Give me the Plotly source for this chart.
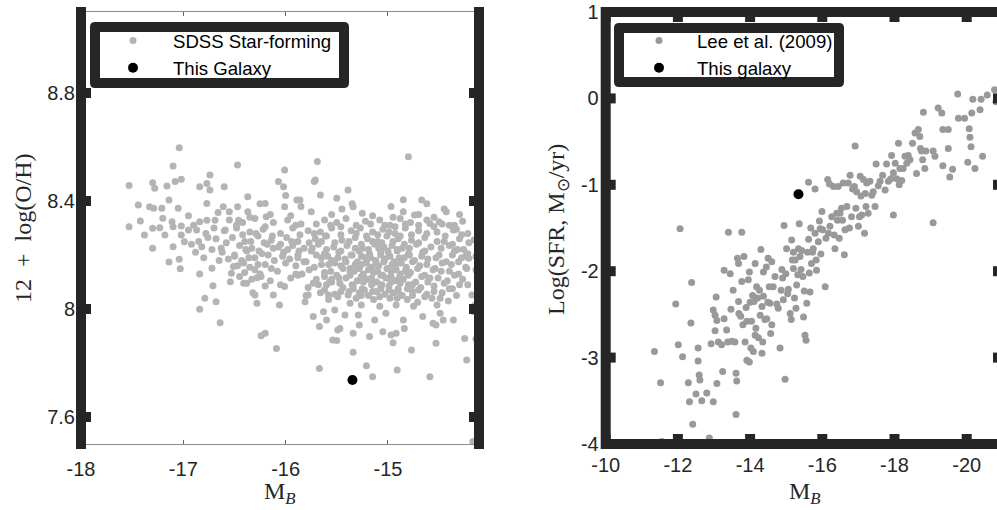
import plotly.graph_objects as go

# ---------------- data ----------------
# Left panel: SDSS star-forming galaxies (M_B, 12+log(O/H)) - sparse outskirts
sdss_sparse = [
    (-17.53, 8.457), (-17.53, 8.305), (-17.44, 8.385), (-17.42, 8.326), (-17.38, 8.274),
    (-17.30, 8.225), (-17.30, 8.468), (-17.28, 8.447), (-17.33, 8.379), (-17.29, 8.373),
    (-17.30, 8.299), (-17.23, 8.301), (-17.21, 8.373), (-17.20, 8.336), (-17.18, 8.274),
    (-17.16, 8.456), (-17.14, 8.404), (-17.14, 8.174), (-17.11, 8.323), (-17.10, 8.530),
    (-17.10, 8.231), (-17.10, 8.305), (-17.08, 8.472), (-17.04, 8.597), (-17.05, 8.373),
    (-17.04, 8.184), (-17.03, 8.149), (-17.02, 8.481), (-17.02, 8.307), (-17.02, 8.274),
    (-16.99, 8.249), (-16.95, 8.345), (-16.95, 8.293), (-16.92, 8.240), (-16.87, 8.293),
    (-16.84, 8.453), (-16.84, 8.323), (-16.84, 8.130), (-16.84, 7.999), (-16.82, 8.231),
    (-16.79, 8.040), (-16.77, 8.465), (-16.77, 8.391), (-16.77, 8.329), (-16.76, 8.265),
    (-16.74, 8.496), (-16.74, 8.441), (-16.72, 8.151), (-16.71, 8.086), (-16.69, 8.329),
    (-16.68, 8.027), (-16.66, 8.357), (-16.64, 7.949), (-16.63, 8.225), (-16.60, 8.453),
    (-16.61, 8.379), (-16.59, 8.293), (-16.54, 8.101), (-16.53, 8.132), (-16.51, 8.157),
    (-16.47, 8.533), (-16.47, 8.379), (-16.46, 8.329), (-16.41, 8.095), (-16.38, 8.095),
    (-16.37, 8.416), (-16.37, 8.360), (-16.30, 8.052), (-16.28, 8.021), (-16.28, 8.116),
    (-16.24, 7.901), (-16.20, 7.910), (-16.20, 8.391), (-16.19, 8.342), (-16.12, 8.052),
    (-16.09, 7.854), (-16.07, 8.472), (-16.06, 8.015), (-16.02, 8.453), (-16.01, 8.515),
    (-16.01, 8.083), (-16.01, 8.379), (-15.89, 8.404), (-15.86, 8.404), (-15.81, 8.027),
    (-15.78, 8.052), (-15.73, 7.972), (-15.72, 8.472), (-15.71, 8.478), (-15.69, 8.546),
    (-15.67, 7.780), (-15.67, 7.935), (-15.66, 8.422), (-15.63, 7.990), (-15.60, 7.959),
    (-15.58, 8.052), (-15.55, 8.110), (-15.54, 7.885), (-15.52, 7.996), (-15.50, 7.883),
    (-15.49, 7.922), (-15.47, 7.928), (-15.42, 7.978), (-15.39, 8.441), (-15.39, 8.052),
    (-15.37, 8.021), (-15.34, 7.910), (-15.34, 7.840), (-15.34, 8.379), (-15.29, 7.978),
    (-15.28, 7.941), (-15.21, 7.790), (-15.18, 7.898), (-15.15, 7.749), (-15.13, 7.959),
    (-15.05, 7.916), (-15.02, 7.984), (-14.97, 7.904), (-14.95, 7.875), (-14.92, 7.910),
    (-14.91, 7.774), (-14.85, 7.959), (-14.84, 7.928), (-14.80, 8.564), (-14.77, 7.848),
    (-14.74, 8.348), (-14.67, 8.404), (-14.66, 7.972), (-14.59, 7.749), (-14.59, 8.317),
    (-14.56, 7.947), (-14.53, 7.873), (-14.53, 7.941), (-14.50, 8.323), (-14.49, 7.984),
    (-14.46, 7.959), (-14.43, 8.360), (-14.36, 8.293), (-14.36, 7.959), (-14.25, 7.891),
    (-14.23, 7.811), (-14.16, 8.256), (-14.16, 7.990), (-14.15, 8.015), (-14.14, 7.889),
    (-14.11, 8.212), (-14.14, 8.144), (-14.14, 8.194), (-14.17, 7.509), (-14.21, 8.188),
    (-14.18, 8.052),
    (-16.55, 8.36), (-16.35, 8.34), (-16.15, 8.35), (-15.95, 8.345), (-15.75, 8.36),
    (-15.55, 8.35), (-15.45, 8.37), (-15.25, 8.355), (-15.15, 8.345), (-14.95, 8.34),
    (-14.85, 8.36), (-14.70, 8.35), (-14.55, 8.34), (-14.45, 8.37), (-14.30, 8.35),
    (-16.25, 8.39), (-15.85, 8.38), (-15.35, 8.39), (-14.97, 8.38), (-14.62, 8.39),
    (-16.00, 8.42), (-15.50, 8.41), (-14.85, 8.405),
    (-16.90, 8.31), (-16.85, 8.25), (-16.78, 8.28), (-16.72, 8.22), (-16.70, 8.30),
    (-16.80, 8.19), (-16.88, 8.21), (-16.65, 8.18),
    (-16.45, 8.12), (-16.32, 8.06), (-16.05, 8.09), (-15.90, 8.13), (-15.80, 8.05),
    (-15.68, 8.09),
]

# Left panel: SDSS star-forming galaxies - dense core
sdss_core = [
    (-16.55, 8.33), (-16.42, 8.32), (-16.30, 8.335), (-16.12, 8.32), (-15.98, 8.33),
    (-15.85, 8.315), (-15.62, 8.33), (-15.50, 8.32), (-15.41, 8.335), (-15.22, 8.325),
    (-15.08, 8.33), (-14.98, 8.31), (-14.88, 8.335), (-14.78, 8.32), (-14.62, 8.33),
    (-14.40, 8.31), (-14.27, 8.325),
    (-16.60, 8.29), (-16.48, 8.30), (-16.35, 8.285), (-16.22, 8.295), (-16.05, 8.28),
    (-15.93, 8.30), (-15.78, 8.29), (-15.66, 8.285), (-15.55, 8.30), (-15.36, 8.29),
    (-15.27, 8.30), (-15.15, 8.285), (-15.05, 8.295), (-14.93, 8.28), (-14.83, 8.30),
    (-14.70, 8.29), (-14.52, 8.285), (-14.33, 8.295), (-14.22, 8.28),
    (-16.68, 8.26), (-16.52, 8.265), (-16.40, 8.25), (-16.27, 8.27), (-16.14, 8.255),
    (-15.99, 8.265), (-15.88, 8.25), (-15.71, 8.26), (-15.60, 8.27), (-15.45, 8.255),
    (-15.32, 8.265), (-15.20, 8.26), (-15.10, 8.25), (-15.01, 8.27), (-14.90, 8.26),
    (-14.77, 8.255), (-14.64, 8.265), (-14.45, 8.25), (-14.30, 8.26),
    (-16.45, 8.235), (-16.33, 8.225), (-16.18, 8.24), (-16.07, 8.23), (-15.93, 8.235),
    (-15.82, 8.225), (-15.68, 8.24), (-15.53, 8.23), (-15.40, 8.235), (-15.25, 8.225),
    (-15.13, 8.24), (-15.04, 8.23), (-14.96, 8.235), (-14.86, 8.225), (-14.72, 8.24),
    (-14.58, 8.23), (-14.40, 8.235), (-14.26, 8.22),
    (-16.62, 8.21), (-16.50, 8.20), (-16.38, 8.215), (-16.23, 8.205), (-16.02, 8.21),
    (-15.88, 8.20), (-15.75, 8.215), (-15.62, 8.205), (-15.48, 8.21), (-15.35, 8.20),
    (-15.28, 8.215), (-15.18, 8.205), (-15.07, 8.21), (-14.99, 8.20), (-14.91, 8.215),
    (-14.80, 8.205), (-14.66, 8.21), (-14.50, 8.20), (-14.35, 8.215), (-14.22, 8.205),
    (-16.56, 8.185), (-16.43, 8.18), (-16.30, 8.19), (-16.11, 8.18), (-15.96, 8.185),
    (-15.80, 8.175), (-15.65, 8.19), (-15.55, 8.18), (-15.42, 8.185), (-15.30, 8.175),
    (-15.22, 8.19), (-15.12, 8.18), (-15.03, 8.185), (-14.94, 8.175), (-14.84, 8.19),
    (-14.74, 8.18), (-14.61, 8.185), (-14.43, 8.175), (-14.28, 8.19),
    (-16.47, 8.16), (-16.35, 8.155), (-16.20, 8.165), (-15.90, 8.16), (-15.72, 8.155),
    (-15.58, 8.165), (-15.46, 8.16), (-15.37, 8.15), (-15.26, 8.165), (-15.16, 8.155),
    (-15.09, 8.16), (-15.00, 8.15), (-14.92, 8.165), (-14.82, 8.155), (-14.69, 8.16),
    (-14.54, 8.15), (-14.38, 8.165), (-14.24, 8.155),
    (-16.40, 8.135), (-16.25, 8.13), (-16.08, 8.14), (-15.84, 8.13), (-15.62, 8.135),
    (-15.50, 8.125), (-15.33, 8.14), (-15.24, 8.13), (-15.14, 8.135), (-15.05, 8.125),
    (-14.97, 8.14), (-14.88, 8.13), (-14.78, 8.135), (-14.64, 8.125), (-14.48, 8.14),
    (-14.31, 8.13),
    (-16.33, 8.11), (-16.15, 8.105), (-15.95, 8.115), (-15.70, 8.11), (-15.55, 8.10),
    (-15.41, 8.115), (-15.30, 8.105), (-15.20, 8.11), (-15.11, 8.10), (-15.02, 8.115),
    (-14.93, 8.105), (-14.85, 8.11), (-14.73, 8.10), (-14.59, 8.115), (-14.42, 8.105),
    (-14.27, 8.11),
    (-16.20, 8.085), (-15.78, 8.08), (-15.60, 8.09), (-15.44, 8.08), (-15.34, 8.085),
    (-15.25, 8.075), (-15.16, 8.09), (-15.07, 8.08), (-14.99, 8.085), (-14.90, 8.075),
    (-14.80, 8.09), (-14.68, 8.08), (-14.55, 8.085), (-14.37, 8.075), (-14.22, 8.09),
    (-15.66, 8.06), (-15.52, 8.055), (-15.38, 8.065), (-15.28, 8.06), (-15.19, 8.05),
    (-15.11, 8.065), (-15.03, 8.055), (-14.95, 8.06), (-14.86, 8.05), (-14.76, 8.065),
    (-14.62, 8.055), (-14.47, 8.06), (-14.33, 8.05),
    (-15.58, 8.035), (-15.31, 8.04), (-15.14, 8.035), (-14.98, 8.04), (-14.81, 8.035),
    (-14.71, 8.025), (-14.57, 8.04), (-14.41, 8.03),
    (-15.26, 8.015), (-15.08, 8.01), (-14.92, 8.015), (-14.75, 8.01), (-14.52, 8.015),
]

# Left panel: SDSS star-forming galaxies - in-between points of the dense core
sdss_core_fill = [
    (-16.48, 8.31), (-16.20, 8.305), (-15.90, 8.31), (-15.70, 8.315), (-15.56, 8.31),
    (-15.46, 8.305), (-15.31, 8.31), (-15.17, 8.315), (-15.03, 8.31), (-14.93, 8.305),
    (-14.83, 8.315), (-14.70, 8.31), (-14.55, 8.305), (-14.47, 8.315), (-14.35, 8.31),
    (-16.42, 8.275), (-16.29, 8.28), (-16.13, 8.27), (-15.86, 8.275), (-15.72, 8.28),
    (-15.61, 8.27), (-15.46, 8.275), (-15.31, 8.28), (-15.21, 8.27), (-15.10, 8.275),
    (-14.99, 8.285), (-14.88, 8.27), (-14.77, 8.275), (-14.62, 8.28), (-14.44, 8.27),
    (-14.28, 8.275),
    (-16.58, 8.245), (-16.34, 8.25), (-16.21, 8.245), (-16.05, 8.24), (-15.94, 8.25),
    (-15.77, 8.245), (-15.65, 8.25), (-15.52, 8.245), (-15.38, 8.25), (-15.26, 8.24),
    (-15.15, 8.25), (-15.06, 8.245), (-14.95, 8.25), (-14.84, 8.24), (-14.70, 8.245),
    (-14.52, 8.25), (-14.37, 8.24), (-14.21, 8.245),
    (-16.39, 8.22), (-16.26, 8.215), (-16.12, 8.225), (-15.98, 8.22), (-15.87, 8.215),
    (-15.74, 8.225), (-15.60, 8.22), (-15.46, 8.215), (-15.32, 8.225), (-15.19, 8.22),
    (-15.09, 8.225), (-15.00, 8.215), (-14.91, 8.22), (-14.79, 8.225), (-14.64, 8.215),
    (-14.48, 8.225), (-14.32, 8.22),
    (-16.50, 8.195), (-16.36, 8.19), (-16.17, 8.2), (-16.03, 8.195), (-15.88, 8.19),
    (-15.70, 8.2), (-15.59, 8.195), (-15.49, 8.19), (-15.36, 8.2), (-15.26, 8.195),
    (-15.17, 8.19), (-15.07, 8.2), (-14.98, 8.195), (-14.89, 8.19), (-14.79, 8.2),
    (-14.67, 8.195), (-14.53, 8.19), (-14.37, 8.2), (-14.24, 8.195),
    (-16.41, 8.17), (-16.27, 8.165), (-16.00, 8.17), (-15.82, 8.175), (-15.65, 8.165),
    (-15.52, 8.17), (-15.41, 8.175), (-15.32, 8.165), (-15.21, 8.17), (-15.12, 8.165),
    (-15.04, 8.175), (-14.96, 8.165), (-14.87, 8.17), (-14.76, 8.175), (-14.62, 8.165),
    (-14.47, 8.17), (-14.31, 8.175),
    (-16.30, 8.145), (-16.14, 8.15), (-15.77, 8.145), (-15.56, 8.14), (-15.44, 8.15),
    (-15.37, 8.14), (-15.28, 8.15), (-15.19, 8.145), (-15.10, 8.14), (-15.01, 8.15),
    (-14.92, 8.145), (-14.83, 8.14), (-14.71, 8.15), (-14.56, 8.145), (-14.40, 8.14),
    (-14.23, 8.15),
    (-16.24, 8.12), (-15.88, 8.125), (-15.62, 8.12), (-15.48, 8.115), (-15.37, 8.125),
    (-15.26, 8.12), (-15.16, 8.115), (-15.07, 8.125), (-14.97, 8.12), (-14.89, 8.115),
    (-14.80, 8.125), (-14.67, 8.12), (-14.51, 8.115), (-14.35, 8.125),
    (-15.73, 8.095), (-15.57, 8.1), (-15.47, 8.095), (-15.35, 8.09), (-15.24, 8.1),
    (-15.15, 8.095), (-15.06, 8.09), (-14.97, 8.1), (-14.88, 8.095), (-14.76, 8.09),
    (-14.61, 8.1), (-14.45, 8.095), (-14.30, 8.09),
    (-15.62, 8.07), (-15.46, 8.065), (-15.34, 8.075), (-15.23, 8.07), (-15.15, 8.065),
    (-15.07, 8.075), (-14.99, 8.07), (-14.90, 8.065), (-14.81, 8.075), (-14.70, 8.07),
    (-14.55, 8.065), (-14.40, 8.075),
    (-15.49, 8.045), (-15.26, 8.05), (-15.08, 8.045), (-14.91, 8.04), (-14.76, 8.05),
    (-14.64, 8.045), (-14.49, 8.04),
]

this_galaxy_mb = [-15.347]
this_galaxy_oh = [7.737]

# Right panel: Lee et al. (2009) (M_B, log SFR)
lee_points = [
    (-11.35, -2.93), (-11.52, -3.29), (-11.55, -3.97), (-12.06, -1.51), (-11.94, -2.38),
    (-12.01, -2.85), (-12.13, -2.99), (-12.29, -3.29), (-12.32, -3.51), (-12.36, -2.60),
    (-12.38, -2.13), (-12.41, -3.77), (-12.50, -3.42), (-12.56, -2.89), (-12.56, -3.04),
    (-12.59, -3.20), (-12.61, -3.26), (-12.66, -3.50), (-12.80, -3.41), (-12.87, -3.93),
    (-12.92, -2.84), (-12.98, -3.51), (-12.98, -2.45), (-13.03, -2.51), (-13.03, -2.69),
    (-13.06, -2.30), (-13.08, -2.57), (-13.08, -3.30), (-13.12, -2.82), (-13.21, -2.85),
    (-13.24, -3.16), (-13.28, -1.99), (-13.28, -2.55), (-13.35, -2.68), (-13.38, -2.82),
    (-13.40, -1.55), (-13.45, -2.03), (-13.47, -2.44), (-13.49, -2.81), (-13.53, -2.22),
    (-13.58, -2.82), (-13.61, -3.18), (-13.63, -3.27), (-13.61, -3.66), (-13.65, -1.85),
    (-13.68, -1.91), (-13.68, -2.35), (-13.69, -2.49), (-13.74, -2.52), (-13.77, -1.55),
    (-13.77, -2.12), (-13.80, -2.62), (-13.83, -1.83), (-13.86, -2.82), (-13.89, -2.42),
    (-13.91, -2.58), (-13.91, -3.03), (-13.95, -2.10), (-13.98, -3.05), (-13.98, -2.01),
    (-14.00, -2.36), (-14.02, -2.89), (-14.04, -2.58), (-14.07, -2.28), (-14.09, -2.93),
    (-14.11, -2.35), (-14.14, -1.91), (-14.14, -2.74), (-14.16, -2.66), (-14.18, -2.18),
    (-14.21, -2.31), (-14.23, -2.77), (-14.26, -2.22), (-14.28, -2.51), (-14.30, -1.75),
    (-14.33, -2.41), (-14.33, -2.95), (-14.35, -2.82), (-14.37, -2.01), (-14.37, -2.29),
    (-14.41, -2.56), (-14.45, -1.95), (-14.46, -2.55), (-14.49, -2.36), (-14.50, -1.85),
    (-14.53, -2.18), (-14.55, -2.37), (-14.57, -2.72), (-14.60, -2.62), (-14.60, -1.89),
    (-14.64, -2.18), (-14.69, -2.06), (-14.74, -2.38), (-14.78, -2.43), (-14.83, -2.89),
    (-14.86, -2.22), (-14.88, -1.98), (-14.90, -2.08), (-14.92, -2.33), (-14.94, -1.47),
    (-14.97, -3.25), (-14.99, -2.03), (-15.01, -1.74), (-15.04, -2.26), (-15.06, -2.21),
    (-15.11, -2.49), (-15.14, -2.56), (-15.15, -1.64), (-15.17, -1.87), (-15.20, -1.97),
    (-15.20, -1.78), (-15.23, -2.31), (-15.25, -1.87), (-15.27, -2.43), (-15.29, -2.16),
    (-15.32, -2.04), (-15.34, -1.74), (-15.36, -1.45), (-15.38, -1.83), (-15.41, -1.98),
    (-15.43, -1.76), (-15.46, -2.06), (-15.48, -2.53), (-15.50, -2.23), (-15.52, -2.74),
    (-15.55, -2.80), (-15.57, -2.37), (-15.59, -1.78), (-15.62, -0.97), (-15.62, -1.63),
    (-15.64, -2.02), (-15.66, -2.24), (-15.68, -1.50), (-15.70, -1.91), (-15.73, -1.78),
    (-15.75, -1.74), (-15.80, -1.05), (-15.80, -1.56), (-15.83, -1.87), (-15.84, -1.99),
    (-15.89, -1.66), (-15.92, -1.42), (-15.94, -1.51), (-15.96, -1.80), (-15.99, -1.31),
    (-16.01, -1.52), (-16.08, -2.18), (-16.10, -1.62), (-16.15, -0.94), (-16.17, -1.56),
    (-16.20, -0.99), (-16.21, -1.48), (-16.26, -1.37), (-16.31, -1.02), (-16.33, -1.58),
    (-16.35, -1.74), (-16.40, -1.33), (-16.42, -1.41), (-16.44, -1.02), (-16.47, -1.62),
    (-16.49, -1.33), (-16.53, -1.27), (-16.56, -1.41), (-16.58, -0.98), (-16.61, -1.81),
    (-16.63, -1.52), (-16.68, -1.25), (-16.72, -0.98), (-16.75, -1.50), (-16.77, -0.89),
    (-16.81, -1.37), (-16.84, -1.05), (-16.89, -1.02), (-16.91, -0.55), (-16.93, -1.27),
    (-16.95, -1.08), (-17.00, -1.48), (-17.03, -1.37), (-17.05, -0.90), (-17.07, -1.13),
    (-17.09, -1.35), (-17.14, -0.94), (-17.17, -1.56), (-17.19, -1.10), (-17.21, -1.25),
    (-17.23, -0.98), (-17.27, -1.33), (-17.32, -0.96), (-17.37, -1.12), (-17.41, -1.08),
    (-17.46, -1.25), (-17.49, -0.76), (-17.55, -1.01), (-17.60, -0.96), (-17.67, -0.89),
    (-17.74, -1.06), (-17.78, -0.76), (-17.83, -0.96), (-17.90, -0.93), (-17.92, -0.66),
    (-17.97, -0.86), (-17.97, -1.35), (-18.02, -0.75), (-18.06, -0.93), (-18.11, -0.52),
    (-18.13, -1.00), (-18.15, -0.81), (-18.20, -0.95), (-18.24, -0.81), (-18.29, -0.67),
    (-18.34, -0.75), (-18.38, -0.66), (-18.43, -0.71), (-18.50, -0.52), (-18.57, -0.40),
    (-18.61, -0.87), (-18.66, -0.36), (-18.70, -0.44), (-18.72, -0.58), (-18.75, -0.61),
    (-18.78, -0.71), (-18.80, -0.16), (-18.84, -0.81), (-18.87, -0.61), (-19.07, -0.61),
    (-19.12, -0.67), (-19.07, -1.44), (-19.21, -0.11), (-19.31, -0.17), (-19.34, -0.36),
    (-19.34, -0.78), (-19.49, -0.58), (-19.49, -0.36), (-19.53, -0.91), (-19.61, -0.82),
    (-19.75, 0.05), (-19.77, -0.23), (-19.94, -0.23), (-20.03, -0.74), (-20.07, -0.35),
    (-20.09, -0.45), (-20.12, -0.56), (-20.14, -0.17), (-20.17, -0.01), (-20.23, -0.81),
    (-20.37, -0.13), (-20.40, -0.01), (-20.44, -0.67), (-20.57, 0.04), (-20.77, 0.10),
    (-20.81, -0.04),
]

this_galaxy_mb2 = [-15.34]
this_galaxy_sfr = [-1.11]

left_xticks = [-18, -17, -16, -15]
left_xticktext = ["-18", "-17", "-16", "-15"]
left_yticks = [7.6, 8.0, 8.4, 8.8]
left_yticktext = ["7.6", "8", "8.4", "8.8"]
right_xticks = [-10, -12, -14, -16, -18, -20]
right_xticktext = ["-10", "-12", "-14", "-16", "-18", "-20"]
right_yticks = [1, 0, -1, -2, -3, -4]
right_yticktext = ["1", "0", "-1", "-2", "-3", "-4"]

# ---------------- style ----------------
DARK = "#262626"
SANS = "Liberation Sans, Arial, sans-serif"
SERIF = "Liberation Serif, Times New Roman, serif"
W, H = 997, 510
PLOT_TOP, PLOT_BOT = 12, 444
PH = PLOT_BOT - PLOT_TOP
BAR = 10   # thick axis width (px)
HALF = BAR / 2
L0, L1 = 81, 479      # left panel plot area (px)
R0 = 605.7            # right panel left edge (px)
R_PX_PER_UNIT = 36.1

fig = go.Figure()

pts = sdss_sparse + sdss_core + sdss_core_fill
fig.add_trace(go.Scatter(x=[p[0] for p in pts], y=[p[1] for p in pts], mode="markers",
                         name="SDSS Star-forming",
                         marker=dict(color="#b4b4b4", size=7, line=dict(width=0)),
                         xaxis="x", yaxis="y", legend="legend"))
fig.add_trace(go.Scatter(x=this_galaxy_mb, y=this_galaxy_oh, mode="markers", name="This Galaxy",
                         marker=dict(color="black", size=10, line=dict(width=0)),
                         xaxis="x", yaxis="y", legend="legend"))
fig.add_trace(go.Scatter(x=[p[0] for p in lee_points], y=[p[1] for p in lee_points],
                         mode="markers", name="Lee et al. (2009)",
                         marker=dict(color="#999999", size=7, line=dict(width=0)),
                         xaxis="x2", yaxis="y2", legend="legend2"))
fig.add_trace(go.Scatter(x=this_galaxy_mb2, y=this_galaxy_sfr, mode="markers", name="This galaxy",
                         marker=dict(color="black", size=10, line=dict(width=0)),
                         xaxis="x2", yaxis="y2", legend="legend2"))

tickfont = dict(family=SANS, size=20, color=DARK)

shapes = []


def rect(**kw):
    d = dict(type="rect", fillcolor=DARK, line=dict(width=0), layer="above")
    d.update(kw)
    shapes.append(d)


# left panel: thick left/right axes with inward tick blocks
for anchor in (0, 1):
    rect(xref="x domain", yref="y domain", xsizemode="pixel", xanchor=anchor,
         x0=-HALF, x1=HALF, y0=-HALF / PH, y1=1 + HALF / PH)
    for v in left_yticks:
        rect(xref="x domain", yref="y", xsizemode="pixel", ysizemode="pixel",
             xanchor=anchor, yanchor=v,
             x0=0 if anchor == 0 else -BAR, x1=BAR if anchor == 0 else 0,
             y0=-HALF, y1=HALF)

# right panel: thick left / top / bottom axes
rect(xref="x2 domain", yref="y2 domain", xsizemode="pixel", xanchor=0,
     x0=-HALF, x1=HALF, y0=-HALF / PH, y1=1 + HALF / PH)
for anchor in (0, 1):
    rect(xref="x2 domain", yref="y2 domain", ysizemode="pixel", yanchor=anchor,
         y0=-HALF, y1=HALF, x0=0, x1=1.05)
    for v in right_xticks:
        rect(xref="x2", yref="y2 domain", xsizemode="pixel", ysizemode="pixel",
             xanchor=v, yanchor=anchor, x0=-HALF, x1=HALF,
             y0=0 if anchor == 0 else -BAR, y1=BAR if anchor == 0 else 0)
for v in right_yticks:
    rect(xref="x2 domain", yref="y2", xsizemode="pixel", ysizemode="pixel",
         xanchor=0, yanchor=v, x0=0, x1=BAR, y0=-HALF, y1=HALF)
    rect(xref="x2 domain", yref="y2", xsizemode="pixel", ysizemode="pixel",
         xanchor=1, yanchor=v, x0=-4, x1=6, y0=-HALF, y1=HALF)


# legend frames (thick dark border with rounded outer corners, white inside)
def px_x(v):
    return v / W


def px_y(v):
    return 1 - (v - PLOT_TOP) / PH


def frame_path(x0, y0, x1, y1, r=5, t=BAR):
    X, Y = px_x, px_y
    outer = (f"M{X(x0 + r)},{Y(y0)} L{X(x1 - r)},{Y(y0)} Q{X(x1)},{Y(y0)} {X(x1)},{Y(y0 + r)} "
             f"L{X(x1)},{Y(y1 - r)} Q{X(x1)},{Y(y1)} {X(x1 - r)},{Y(y1)} "
             f"L{X(x0 + r)},{Y(y1)} Q{X(x0)},{Y(y1)} {X(x0)},{Y(y1 - r)} "
             f"L{X(x0)},{Y(y0 + r)} Q{X(x0)},{Y(y0)} {X(x0 + r)},{Y(y0)} Z")
    inner = (f" M{X(x0 + t)},{Y(y0 + t)} L{X(x0 + t)},{Y(y1 - t)} L{X(x1 - t)},{Y(y1 - t)} "
             f"L{X(x1 - t)},{Y(y0 + t)} Z")
    return outer + inner


for (bx0, by0, bx1, by1) in [(90, 22, 349, 88), (614, 23, 844, 87)]:
    shapes.append(dict(type="rect", xref="paper", yref="paper",
                       x0=px_x(bx0 + 2), x1=px_x(bx1 - 2), y0=px_y(by1 - 2), y1=px_y(by0 + 2),
                       fillcolor="white", line=dict(width=0), layer="above"))
    shapes.append(dict(type="path", xref="paper", yref="paper",
                       path=frame_path(bx0, by0, bx1, by1), fillrule="evenodd",
                       fillcolor=DARK, line=dict(width=0), layer="above"))

legend_font = dict(family=SANS, size=18.6, color="black")

fig.update_layout(
    width=W, height=H,
    margin=dict(l=0, r=0, t=PLOT_TOP, b=H - PLOT_BOT, pad=0, autoexpand=False),
    paper_bgcolor="white", plot_bgcolor="white",
    showlegend=True,
    xaxis=dict(domain=[L0 / W, L1 / W], range=[-18, -14.11], anchor="y",
               tickvals=left_xticks, ticktext=left_xticktext, ticks="inside", ticklen=4,
               tickwidth=1, tickcolor="#666666", showline=True, linecolor="#8c8c8c",
               linewidth=1, mirror="ticks", showgrid=False, zeroline=False,
               tickfont=tickfont, ticklabelstandoff=7, automargin=False),
    yaxis=dict(domain=[0, 1], range=[7.5, 9.1], anchor="x",
               tickvals=left_yticks, ticktext=left_yticktext, ticks="",
               showline=False, showgrid=False, zeroline=False, tickfont=tickfont,
               ticklabelstandoff=5, automargin=False),
    xaxis2=dict(domain=[R0 / W, 1], range=[-10, -10 - (W - R0) / R_PX_PER_UNIT], anchor="y2",
                tickvals=right_xticks, ticktext=right_xticktext, ticks="", showline=False,
                showgrid=False, zeroline=False, tickfont=tickfont, ticklabelstandoff=7,
                automargin=False),
    yaxis2=dict(domain=[0, 1], range=[-4, 1], anchor="x2",
                tickvals=right_yticks, ticktext=right_yticktext, ticks="", showline=False,
                showgrid=False, zeroline=False, tickfont=tickfont, ticklabelstandoff=6,
                automargin=False),
    legend=dict(x=93 / W, y=px_y(22), xanchor="left", yanchor="top",
                bgcolor="rgba(0,0,0,0)", borderwidth=0,
                font=legend_font, itemwidth=70, tracegroupgap=0),
    legend2=dict(x=621 / W, y=px_y(22), xanchor="left", yanchor="top",
                 bgcolor="rgba(0,0,0,0)", borderwidth=0,
                 font=legend_font, itemwidth=66, tracegroupgap=0),
    shapes=shapes,
    annotations=[
        dict(text="12\u2002+\u2002log(O/H)", textangle=-90, xref="paper", yref="paper",
             x=23 / W, y=0.5, xanchor="center", yanchor="middle", showarrow=False,
             font=dict(family=SERIF, size=24, color=DARK)),
        dict(text="M<sub><i>B</i></sub>", xref="paper", yref="paper",
             x=(L0 + L1) / 2 / W, y=px_y(493), xanchor="center",
             yanchor="middle", showarrow=False,
             font=dict(family=SERIF, size=24, color=DARK)),
        dict(text="Log(SFR, M<sub>⊙</sub>/yr)", textangle=-90, xref="paper", yref="paper",
             x=558 / W, y=px_y(230), xanchor="center", yanchor="middle",
             showarrow=False, font=dict(family=SERIF, size=24, color=DARK)),
        dict(text="M<sub><i>B</i></sub>", xref="paper", yref="paper",
             x=805 / W, y=px_y(493), xanchor="center",
             yanchor="middle", showarrow=False,
             font=dict(family=SERIF, size=24, color=DARK)),
    ],
)

fig.write_html("out.html", config={"displayModeBar": False},
               post_script="document.body.style.margin='0px';")
